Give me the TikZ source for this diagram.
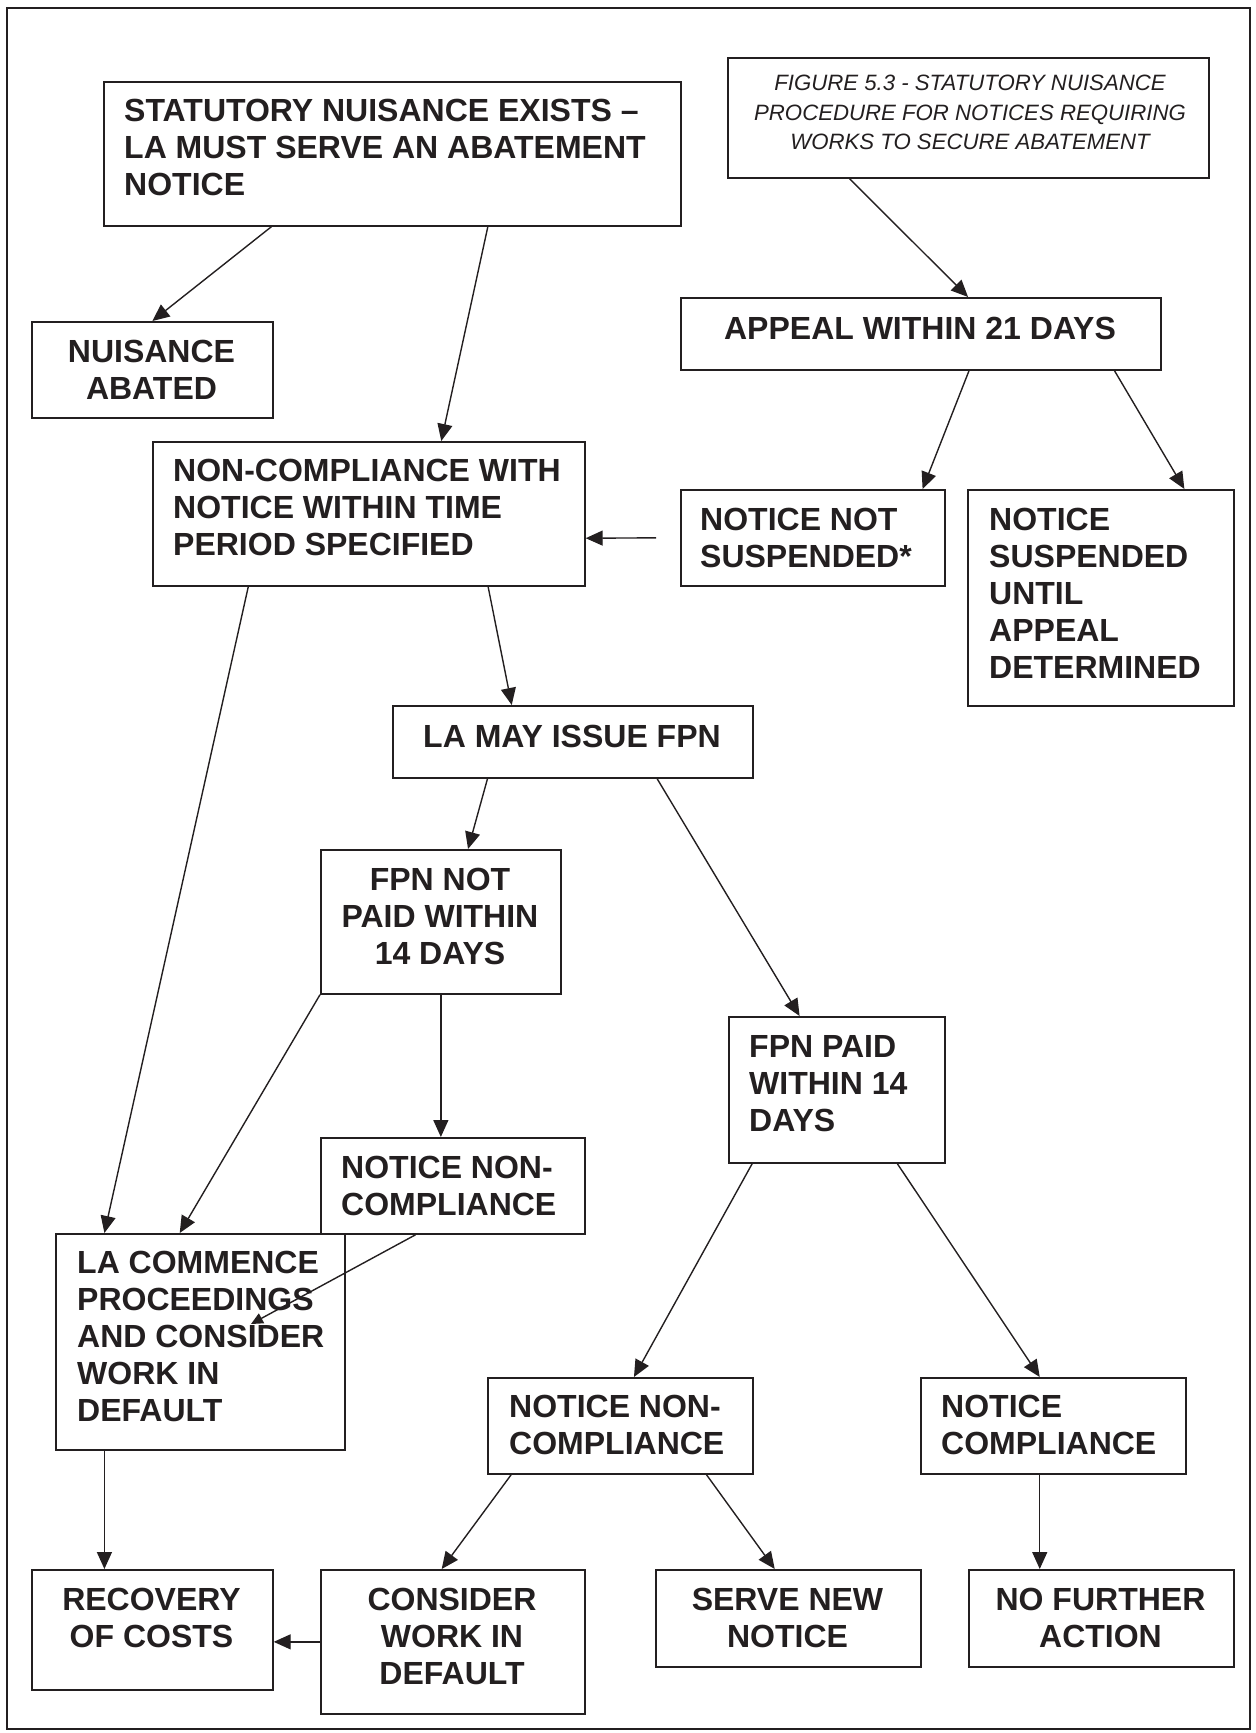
\documentclass[tikz,border=0pt]{standalone}
\usepackage{fontspec}
\setmainfont{Liberation Sans}
\usetikzlibrary{arrows.meta,calc}
\definecolor{ink}{HTML}{231F20}
\begin{document}
\begin{tikzpicture}[x=1pt,y=-1pt,
  box/.style={draw=ink, line width=1.7pt, rectangle, inner sep=0pt, anchor=north west},
  btxt/.style={inner sep=0pt, text=ink, font=\fontsize{32}{37}\selectfont\bfseries},
  itxt/.style={inner sep=0pt, text=ink, font=\fontsize{22.2}{29.5}\selectfont\itshape},
  conn/.style={draw=ink, line width=1.4pt, -{Triangle[length=17pt,width=15pt]}},
  sconn/.style={draw=ink, line width=1.4pt, -{Triangle[length=12pt,width=11pt]}}]
\useasboundingbox (0,0) rectangle (1256,1733);
\draw[ink, line width=1.7pt] (7,8) rectangle (1250,1729);

% boxes
\node[box, minimum width=577pt, minimum height=144pt] (big) at (103,81) {};
\node[box, minimum width=481pt, minimum height=120pt] (fig) at (727,57) {};
\node[box, minimum width=241pt, minimum height=96pt] (abated) at (31,321) {};
\node[box, minimum width=480pt, minimum height=72pt] (appeal) at (680,297) {};
\node[box, minimum width=432pt, minimum height=144pt] (noncomp) at (152,441) {};
\node[box, minimum width=264pt, minimum height=96pt] (nns) at (680,489) {};
\node[box, minimum width=266pt, minimum height=216pt] (susp) at (967,489) {};
\node[box, minimum width=360pt, minimum height=72pt] (fpn) at (392,705) {};
\node[box, minimum width=240pt, minimum height=144pt] (notpaid) at (320,849) {};
\node[box, minimum width=216pt, minimum height=146pt] (paid) at (728,1016) {};
\node[box, minimum width=264pt, minimum height=96pt] (nncL) at (320,1137) {};
\node[box, minimum width=289pt, minimum height=216pt] (lacomm) at (55,1233) {};
\node[box, minimum width=265pt, minimum height=96pt] (nncR) at (487,1377) {};
\node[box, minimum width=265pt, minimum height=96pt] (comp) at (920,1377) {};
\node[box, minimum width=241pt, minimum height=120pt] (recovery) at (31,1569) {};
\node[box, minimum width=264pt, minimum height=144pt] (consider) at (320,1569) {};
\node[box, minimum width=265pt, minimum height=97pt] (serve) at (655,1569) {};
\node[box, minimum width=265pt, minimum height=97pt] (nfa) at (968,1569) {};

% texts
\node[btxt, align=left, anchor=west] (tbig) at (124,147.5) {STATUTORY NUISANCE EXISTS –\\LA MUST SERVE AN ABATEMENT\\NOTICE};
\node[itxt, align=center] (tfig) at (970,112.5) {FIGURE 5.3 - STATUTORY NUISANCE\\PROCEDURE FOR NOTICES REQUIRING\\WORKS TO SECURE ABATEMENT};
\node[btxt, align=center] (tabated) at (151.5,370) {NUISANCE\\ABATED};
\node[btxt, align=center] (tappeal) at (920,328) {APPEAL WITHIN 21 DAYS};
\node[btxt, align=left, anchor=west] (tnoncomp) at (173,507) {NON-COMPLIANCE WITH\\NOTICE WITHIN TIME\\PERIOD SPECIFIED};
\node[btxt, align=left, anchor=west] (tnns) at (700,537.5) {NOTICE NOT\\SUSPENDED*};
\node[btxt, align=left, anchor=west] (tsusp) at (989,593) {NOTICE\\SUSPENDED\\UNTIL\\APPEAL\\DETERMINED};
\node[btxt, align=center] (tfpn) at (572,736) {LA MAY ISSUE FPN};
\node[btxt, align=center] (tnotpaid) at (440,916) {FPN NOT\\PAID WITHIN\\14 DAYS};
\node[btxt, align=left, anchor=west] (tpaid) at (749,1084) {FPN PAID\\WITHIN 14\\DAYS};
\node[btxt, align=left, anchor=west] (tnncL) at (341,1186) {NOTICE NON-\\COMPLIANCE};
\node[btxt, align=left, anchor=west] (tlacomm) at (77,1336.5) {LA COMMENCE\\PROCEEDINGS\\AND CONSIDER\\WORK IN\\DEFAULT};
\node[btxt, align=left, anchor=west] (tnncR) at (509,1425) {NOTICE NON-\\COMPLIANCE};
\node[btxt, align=left, anchor=west] (tcomp) at (941,1425) {NOTICE\\COMPLIANCE};
\node[btxt, align=center] (trecovery) at (151.5,1618) {RECOVERY\\OF COSTS};
\node[btxt, align=center] (tconsider) at (452,1636) {CONSIDER\\WORK IN\\DEFAULT};
\node[btxt, align=center] (tserve) at (787.5,1618) {SERVE NEW\\NOTICE};
\node[btxt, align=center] (tnfa) at (1100.5,1618) {NO FURTHER\\ACTION};

% connector start points for vertical arrows
\coordinate (lcout) at ($(lacomm.south west)!0.17!(lacomm.south east)$);
\coordinate (compout) at ($(comp.south west)!0.449!(comp.south east)$);

% connectors
\draw[conn] ($(big.south west)!0.291!(big.south east)$) -- (abated.north);
\draw[conn] ($(big.south west)!0.665!(big.south east)$) -- ($(noncomp.north west)!0.667!(noncomp.north east)$);
\draw[conn] ($(fig.south west)!0.254!(fig.south east)$) -- ($(appeal.north west)!0.598!(appeal.north east)$);
\draw[conn] ($(appeal.south west)!0.6!(appeal.south east)$) -- ($(nns.north west)!0.913!(nns.north east)$);
\draw[conn] ($(appeal.south west)!0.902!(appeal.south east)$) -- ($(susp.north west)!0.812!(susp.north east)$);
\draw[conn] ($(nns.west)+(-24,0)$) -- ($(noncomp.north east)!0.667!(noncomp.south east)$);
\draw[conn] ($(noncomp.south west)!0.222!(noncomp.south east)$) -- ($(lacomm.north west)!0.17!(lacomm.north east)$);
\draw[conn] ($(noncomp.south west)!0.775!(noncomp.south east)$) -- ($(fpn.north west)!0.331!(fpn.north east)$);
\draw[conn] ($(fpn.south west)!0.264!(fpn.south east)$) -- ($(notpaid.north west)!0.6125!(notpaid.north east)$);
\draw[conn] ($(fpn.south west)!0.733!(fpn.south east)$) -- ($(paid.north west)!0.329!(paid.north east)$);
\draw[conn] (notpaid.south west) -- ($(lacomm.north west)!0.429!(lacomm.north east)$);
\draw[conn] (notpaid.south) -- (notpaid.south |- nncL.north);
\draw[sconn] ($(nncL.south west)!0.36!(nncL.south east)$) -- ($(lacomm.north west)+(196,91)$);
\draw[conn] (lcout) -- (lcout |- recovery.north);
\draw[conn] (consider.west) -- (recovery.east |- consider.west);
\draw[conn] ($(paid.south west)!0.111!(paid.south east)$) -- ($(nncR.north west)!0.551!(nncR.north east)$);
\draw[conn] ($(paid.south west)!0.778!(paid.south east)$) -- ($(comp.north west)!0.449!(comp.north east)$);
\draw[conn] ($(nncR.south west)!0.0906!(nncR.south east)$) -- ($(consider.north west)!0.458!(consider.north east)$);
\draw[conn] ($(nncR.south west)!0.823!(nncR.south east)$) -- ($(serve.north west)!0.449!(serve.north east)$);
\draw[conn] (compout) -- (compout |- nfa.north);
\end{tikzpicture}
\end{document}
